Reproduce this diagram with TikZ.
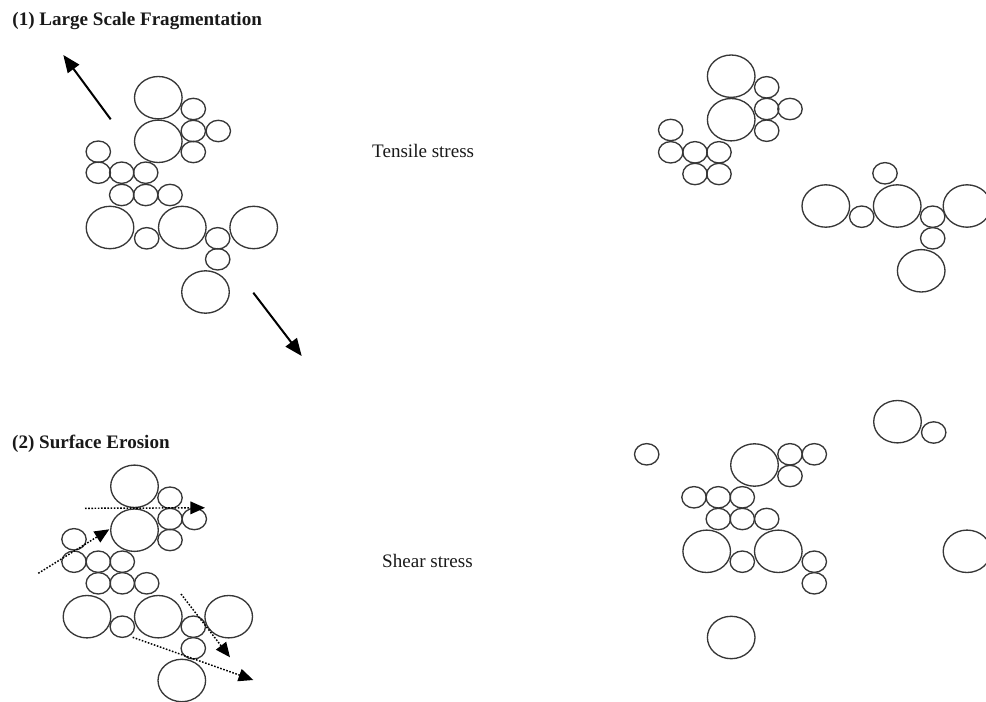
\documentclass[tikz,border=0pt]{standalone}
\usepackage{fontspec}
\setmainfont{Liberation Serif}
\usetikzlibrary{arrows.meta}

\tikzset{every picture/.style={line width=0.75pt}}
\tikzset{
  grain/.style={draw={rgb, 255:red, 55; green, 55; blue, 55 }, line width=1pt},
  bigpart/.style={grain, x radius=23.8, y radius=21.2},
  smallpart/.style={grain, x radius=12.2, y radius=10.7},
  pull/.style={line width=1.5, -{Triangle[length=13pt,width=10.5pt]}},
  flow/.style={dash pattern={on 1.2pt off 1.2pt}, line width=1.1, -{Triangle[length=11pt,width=9.5pt]}},
  caption/.style={anchor=base west, inner sep=0pt, text={rgb, 255:red, 25; green, 25; blue, 25 }, font=\fontsize{14.3}{17}\selectfont},
}

\begin{document}
\begin{tikzpicture}[x=0.75pt,y=0.75pt,yscale=-1,xscale=1]
\useasboundingbox (0,0) rectangle (986,702);

% Titles and labels
\node [caption] (title1) at (12,26) {\textbf{(1) Large Scale Fragmentation}};
\node [caption] (title2) at (11.7,448.3) {\textbf{(2) Surface Erosion}};
\node [caption] (tensile) at (371.7,157.3) {Tensile stress};
\node [caption] (shear) at (381.7,567.3) {Shear stress};

%%% (1) aggregate before break-up
\draw [bigpart] (158.3,97.7) circle ;
\draw [bigpart] (158.3,141.3) circle ;
\draw [smallpart] (193.3,109) circle ;
\draw [smallpart] (193.3,131) circle ;
\draw [smallpart] (218.3,131) circle ;
\draw [smallpart] (193.3,152) circle ;
\draw [smallpart] (98.3,151.7) circle ;
\draw [smallpart] (98.3,172.7) circle ;
\draw [smallpart] (121.7,172.7) circle ;
\draw [smallpart] (145.7,172.7) circle ;
\draw [smallpart] (121.7,195) circle ;
\draw [smallpart] (145.7,195) circle ;
\draw [smallpart] (170,195) circle ;
\draw [bigpart] (110,227.5) circle ;
\draw [smallpart] (146.7,238.3) circle ;
\draw [bigpart] (182.3,227.5) circle ;
\draw [smallpart] (217.7,238.3) circle ;
\draw [bigpart] (253.7,227.5) circle ;
\draw [smallpart] (217.7,259.3) circle ;
\draw [bigpart] (205.5,292) circle ;

% tensile pull
\coordinate (pullA0) at (110.7,119.3);
\coordinate (pullA1) at (63.3,55);
\coordinate (pullB0) at (253.3,292.7);
\coordinate (pullB1) at (301.7,356);
\draw [pull] (pullA0) -- (pullA1) ;
\draw [pull] (pullB0) -- (pullB1) ;

%%% (1) fragments
\draw [bigpart] (731.2,76.2) circle ;
\draw [bigpart] (731.2,119.7) circle ;
\draw [smallpart] (766.7,87.3) circle ;
\draw [smallpart] (766.7,109) circle ;
\draw [smallpart] (790,109) circle ;
\draw [smallpart] (766.7,130.7) circle ;
\draw [smallpart] (670.7,130) circle ;
\draw [smallpart] (670.7,152.3) circle ;
\draw [smallpart] (695,152.3) circle ;
\draw [smallpart] (719,152.3) circle ;
\draw [smallpart] (695,174) circle ;
\draw [smallpart] (719,174) circle ;

\draw [smallpart] (885,173.3) circle ;
\draw [bigpart] (825.8,206) circle ;
\draw [smallpart] (861.7,216.7) circle ;
\draw [bigpart] (897.2,206) circle ;
\draw [smallpart] (932.7,216.7) circle ;
\draw [bigpart] (967,206) circle ;
\draw [smallpart] (932.7,238.3) circle ;
\draw [bigpart] (921.2,270.8) circle ;

%%% (2) aggregate under shear
\draw [bigpart] (134.5,486.3) circle ;
\draw [bigpart] (134.5,530.2) circle ;
\draw [smallpart] (170,497.7) circle ;
\draw [smallpart] (170,519) circle ;
\draw [smallpart] (194.3,519) circle ;
\draw [smallpart] (170,540) circle ;
\draw [smallpart] (74,539.3) circle ;
\draw [smallpart] (74,561.7) circle ;
\draw [smallpart] (98.3,561.7) circle ;
\draw [smallpart] (122.3,561.7) circle ;
\draw [smallpart] (98.3,583.3) circle ;
\draw [smallpart] (122.3,583.3) circle ;
\draw [smallpart] (146.7,583.3) circle ;
\draw [bigpart] (87,616.7) circle ;
\draw [smallpart] (122.3,626.7) circle ;
\draw [bigpart] (158.3,616.7) circle ;
\draw [smallpart] (193.3,626.7) circle ;
\draw [bigpart] (228.7,616.7) circle ;
\draw [smallpart] (193.3,648.3) circle ;
\draw [bigpart] (181.8,680.5) circle ;

% surface flow
\coordinate (flowA0) at (85,508.3);
\coordinate (flowA1) at (205,507.8);
\coordinate (flowB0) at (38.3,573.3);
\coordinate (flowB1) at (109.3,529.3);
\coordinate (flowC0) at (181,594);
\coordinate (flowC1) at (230,657.3);
\coordinate (flowD0) at (132.7,637.3);
\coordinate (flowD1) at (253.3,680);
\draw [flow] (flowA0) -- (flowA1) ;
\draw [flow] (flowB0) -- (flowB1) ;
\draw [flow] (flowC0) -- (flowC1) ;
\draw [flow] (flowD0) -- (flowD1) ;

%%% (2) eroded aggregate and loose pieces
\draw [smallpart] (646.7,454.3) circle ;
\draw [bigpart] (754.5,465) circle ;
\draw [smallpart] (790,454.3) circle ;
\draw [smallpart] (814.3,454.3) circle ;
\draw [smallpart] (790,476) circle ;
\draw [smallpart] (694,497.3) circle ;
\draw [smallpart] (718.3,497.3) circle ;
\draw [smallpart] (742.3,497.3) circle ;
\draw [smallpart] (718.3,519) circle ;
\draw [smallpart] (742.3,519) circle ;
\draw [smallpart] (766.7,519) circle ;
\draw [bigpart] (706.7,551.3) circle ;
\draw [smallpart] (742.3,561.7) circle ;
\draw [bigpart] (778.3,551.3) circle ;
\draw [smallpart] (814.3,561.7) circle ;
\draw [smallpart] (814.3,583.3) circle ;
\draw [bigpart] (731.2,637.5) circle ;

\draw [bigpart] (897.5,421.7) circle ;
\draw [smallpart] (933.7,432.5) circle ;
\draw [bigpart] (967,551.3) circle ;

\end{tikzpicture}
\end{document}
